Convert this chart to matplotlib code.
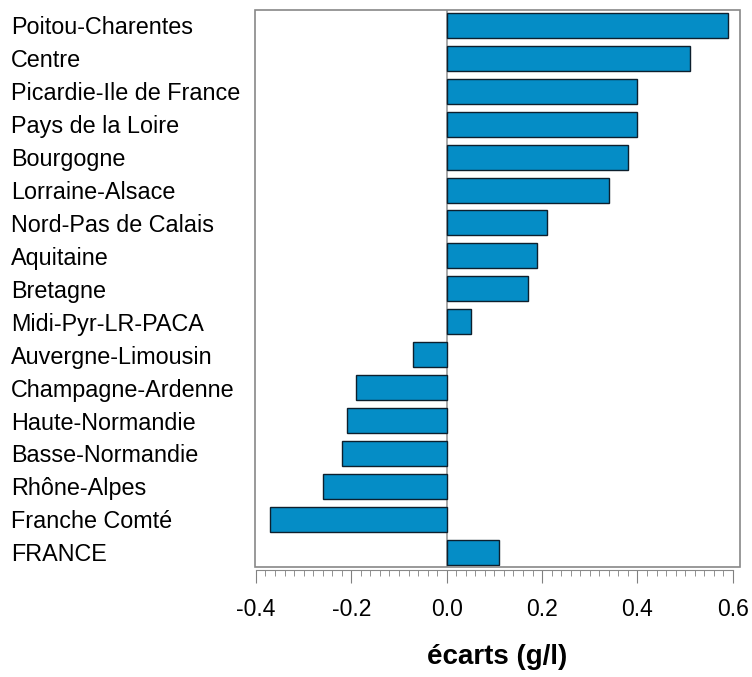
import matplotlib
matplotlib.use('Agg')
import matplotlib.pyplot as plt
from matplotlib.patches import Rectangle
from matplotlib.ticker import MultipleLocator

plt.rcParams['font.family'] = ['Liberation Sans', 'DejaVu Sans']

# regions and their gap to the national average (g/l)
regions = ['Poitou-Charentes', 'Centre', 'Picardie-Ile de France', 'Pays de la Loire',
           'Bourgogne', 'Lorraine-Alsace', 'Nord-Pas de Calais', 'Aquitaine', 'Bretagne',
           'Midi-Pyr-LR-PACA', 'Auvergne-Limousin', 'Champagne-Ardenne', 'Haute-Normandie',
           'Basse-Normandie', 'Rhône-Alpes', 'Franche Comté', 'FRANCE']
ecarts = [0.59, 0.51, 0.40, 0.40, 0.38, 0.34, 0.21, 0.19, 0.17, 0.05,
          -0.07, -0.19, -0.21, -0.22, -0.26, -0.37, 0.11]
xticks = [-0.4, -0.2, 0.0, 0.2, 0.4, 0.6]
xticklabels = ['-0.4', '-0.2', '0.0', '0.2', '0.4', '0.6']

fig = plt.figure(figsize=(7.52, 6.77), dpi=100)
ax = fig.add_axes([255/752, 110/677, 485/752, 557/677])

ypos = list(range(len(regions)))
ax.barh(ypos, ecarts, height=0.76, color='#058dc6', edgecolor='#0d1f2d', linewidth=1.0, zorder=3)
ax.axvline(0, color='#999999', linewidth=1.2, zorder=2)

ax.set_ylim(len(regions) - 0.55, -0.47)
ax.set_xlim(-0.402, 0.615)

# y labels left aligned at the figure edge
ax.set_yticks(ypos)
ax.set_yticklabels(regions, fontsize=16.8, ha='left')
ax.tick_params(axis='y', length=0, pad=244 * 72 / 100)

# box around the plot area
for s in ['top', 'left', 'right']:
    ax.spines[s].set_visible(False)
ax.add_patch(Rectangle((0, 0), 1, 1, transform=ax.transAxes, fill=False,
                       edgecolor='#888888', linewidth=1.2, clip_on=False, zorder=4))

# separate tick axis below
ax.spines['bottom'].set_position(('outward', 2))
ax.spines['bottom'].set_bounds(-0.4, 0.6)
ax.spines['bottom'].set_color('#888888')
ax.xaxis.set_minor_locator(MultipleLocator(0.02))
ax.set_xticks(xticks)
ax.set_xticklabels(xticklabels, fontsize=16.5)
ax.tick_params(axis='x', which='major', direction='out', length=9, color='#808080', pad=11)
ax.tick_params(axis='x', which='minor', direction='out', length=4.5, color='#808080')

ax.set_xlabel('écarts (g/l)', fontsize=20, fontweight='bold', labelpad=17)

fig.savefig('out.png', dpi=100)
